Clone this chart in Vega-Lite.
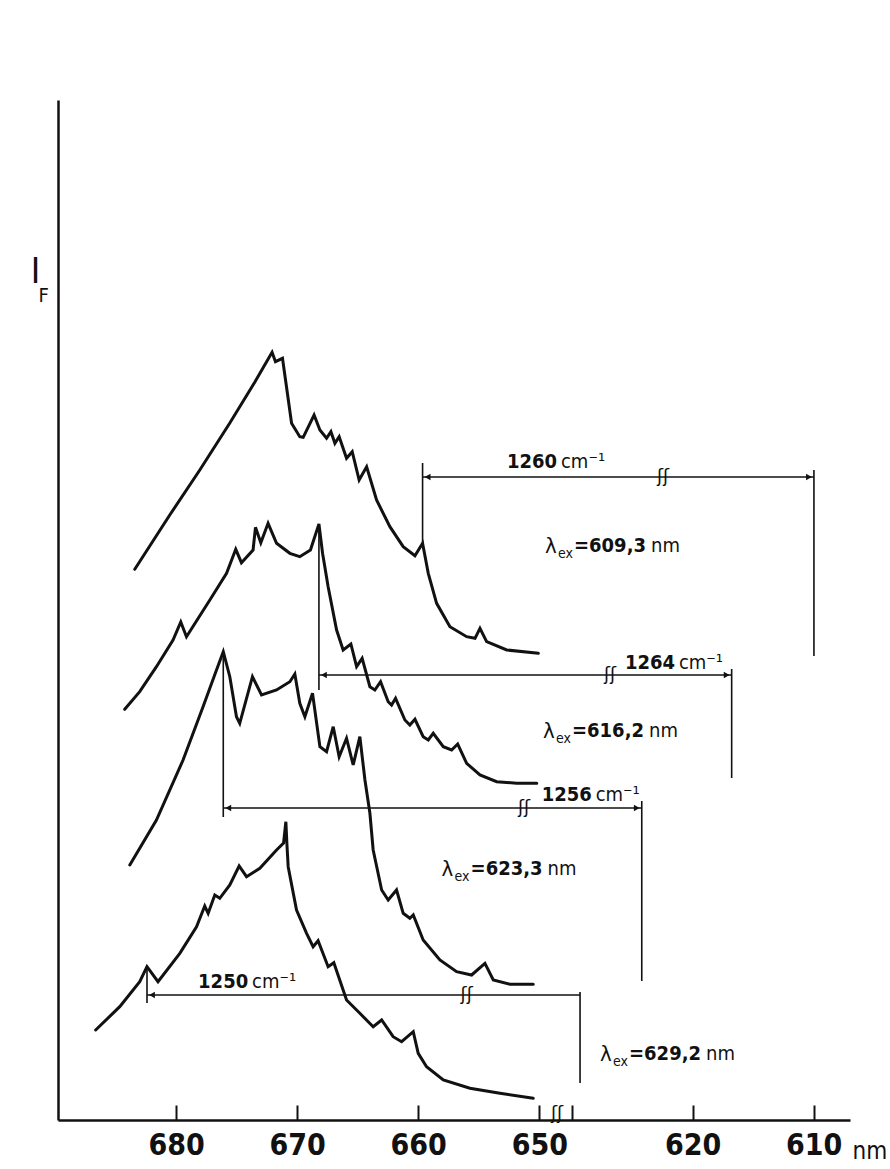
{
  "$schema": "https://vega.github.io/schema/vega-lite/v6.json",
  "width": 792,
  "height": 1020,
  "autosize": {"type": "none"},
  "padding": {"left": 58, "top": 100, "right": 40, "bottom": 49},
  "background": "white",
  "config": {
    "view": {"stroke": null},
    "font": "DejaVu Sans Condensed, DejaVu Sans, sans-serif"
  },
  "datasets": {
    "spectra": [
      {"s": 1, "wl": 683.41, "I": 55.07}, {"s": 1, "wl": 680.52, "I": 60.5}, {"s": 1, "wl": 678.04, "I": 65.0}, {"s": 1, "wl": 675.56, "I": 69.7}, {"s": 1, "wl": 673.49, "I": 73.8}, {"s": 1, "wl": 672.07, "I": 76.77}, {"s": 1, "wl": 671.79, "I": 75.83}, {"s": 1, "wl": 671.21, "I": 76.17}, {"s": 1, "wl": 670.88, "I": 73.33}, {"s": 1, "wl": 670.46, "I": 69.67}, {"s": 1, "wl": 669.78, "I": 68.33}, {"s": 1, "wl": 669.5, "I": 68.27}, {"s": 1, "wl": 668.6, "I": 70.5}, {"s": 1, "wl": 668.12, "I": 69.0}, {"s": 1, "wl": 667.57, "I": 68.17}, {"s": 1, "wl": 667.21, "I": 68.83}, {"s": 1, "wl": 666.88, "I": 67.67}, {"s": 1, "wl": 666.53, "I": 68.33}, {"s": 1, "wl": 665.92, "I": 66.17}, {"s": 1, "wl": 665.45, "I": 66.83}, {"s": 1, "wl": 664.88, "I": 64.0}, {"s": 1, "wl": 664.26, "I": 65.33}, {"s": 1, "wl": 663.44, "I": 62.0}, {"s": 1, "wl": 662.34, "I": 59.33}, {"s": 1, "wl": 661.24, "I": 57.33}, {"s": 1, "wl": 660.27, "I": 56.43}, {"s": 1, "wl": 659.64, "I": 57.67}, {"s": 1, "wl": 659.17, "I": 54.67}, {"s": 1, "wl": 658.48, "I": 51.67}, {"s": 1, "wl": 657.38, "I": 49.33}, {"s": 1, "wl": 656.0, "I": 48.33}, {"s": 1, "wl": 655.31, "I": 48.17}, {"s": 1, "wl": 654.9, "I": 49.17}, {"s": 1, "wl": 654.35, "I": 47.83}, {"s": 1, "wl": 652.69, "I": 47.0}, {"s": 1, "wl": 650.08, "I": 46.67},
      {"s": 2, "wl": 684.24, "I": 41.07}, {"s": 2, "wl": 683.0, "I": 42.83}, {"s": 2, "wl": 681.62, "I": 45.33}, {"s": 2, "wl": 680.25, "I": 48.0}, {"s": 2, "wl": 679.61, "I": 49.8}, {"s": 2, "wl": 679.14, "I": 48.33}, {"s": 2, "wl": 677.21, "I": 52.0}, {"s": 2, "wl": 675.83, "I": 54.67}, {"s": 2, "wl": 675.07, "I": 57.07}, {"s": 2, "wl": 674.6, "I": 55.73}, {"s": 2, "wl": 673.64, "I": 57.0}, {"s": 2, "wl": 673.44, "I": 59.27}, {"s": 2, "wl": 673.0, "I": 57.73}, {"s": 2, "wl": 672.4, "I": 59.67}, {"s": 2, "wl": 671.7, "I": 57.67}, {"s": 2, "wl": 670.6, "I": 56.67}, {"s": 2, "wl": 669.78, "I": 56.33}, {"s": 2, "wl": 668.9, "I": 57.0}, {"s": 2, "wl": 668.2, "I": 59.6}, {"s": 2, "wl": 667.9, "I": 56.67}, {"s": 2, "wl": 667.44, "I": 53.33}, {"s": 2, "wl": 666.74, "I": 49.0}, {"s": 2, "wl": 666.2, "I": 47.0}, {"s": 2, "wl": 665.56, "I": 47.6}, {"s": 2, "wl": 665.09, "I": 45.33}, {"s": 2, "wl": 664.63, "I": 46.17}, {"s": 2, "wl": 663.99, "I": 43.33}, {"s": 2, "wl": 663.58, "I": 43.0}, {"s": 2, "wl": 663.11, "I": 43.83}, {"s": 2, "wl": 662.48, "I": 41.83}, {"s": 2, "wl": 662.2, "I": 41.5}, {"s": 2, "wl": 661.87, "I": 42.17}, {"s": 2, "wl": 661.1, "I": 40.0}, {"s": 2, "wl": 660.69, "I": 39.5}, {"s": 2, "wl": 660.27, "I": 40.07}, {"s": 2, "wl": 659.59, "I": 38.33}, {"s": 2, "wl": 659.17, "I": 38.0}, {"s": 2, "wl": 658.76, "I": 38.67}, {"s": 2, "wl": 657.93, "I": 37.33}, {"s": 2, "wl": 657.24, "I": 37.0}, {"s": 2, "wl": 656.74, "I": 37.6}, {"s": 2, "wl": 656.0, "I": 35.67}, {"s": 2, "wl": 654.9, "I": 34.5}, {"s": 2, "wl": 653.52, "I": 33.83}, {"s": 2, "wl": 651.87, "I": 33.67}, {"s": 2, "wl": 650.21, "I": 33.67},
      {"s": 3, "wl": 683.82, "I": 25.5}, {"s": 3, "wl": 681.62, "I": 30.0}, {"s": 3, "wl": 679.42, "I": 36.0}, {"s": 3, "wl": 677.77, "I": 41.33}, {"s": 3, "wl": 676.66, "I": 45.0}, {"s": 3, "wl": 676.1, "I": 46.83}, {"s": 3, "wl": 675.56, "I": 44.33}, {"s": 3, "wl": 675.01, "I": 40.33}, {"s": 3, "wl": 674.74, "I": 39.67}, {"s": 3, "wl": 673.69, "I": 44.33}, {"s": 3, "wl": 672.94, "I": 42.5}, {"s": 3, "wl": 671.7, "I": 43.0}, {"s": 3, "wl": 670.6, "I": 43.83}, {"s": 3, "wl": 670.19, "I": 44.6}, {"s": 3, "wl": 669.78, "I": 41.67}, {"s": 3, "wl": 669.36, "I": 40.33}, {"s": 3, "wl": 668.73, "I": 42.67}, {"s": 3, "wl": 668.12, "I": 37.33}, {"s": 3, "wl": 667.57, "I": 36.83}, {"s": 3, "wl": 667.02, "I": 39.33}, {"s": 3, "wl": 666.53, "I": 36.33}, {"s": 3, "wl": 665.92, "I": 38.17}, {"s": 3, "wl": 665.37, "I": 35.5}, {"s": 3, "wl": 664.82, "I": 38.33}, {"s": 3, "wl": 664.4, "I": 34.0}, {"s": 3, "wl": 663.99, "I": 30.67}, {"s": 3, "wl": 663.72, "I": 27.0}, {"s": 3, "wl": 663.02, "I": 23.0}, {"s": 3, "wl": 662.48, "I": 22.0}, {"s": 3, "wl": 661.79, "I": 23.0}, {"s": 3, "wl": 661.24, "I": 20.67}, {"s": 3, "wl": 660.69, "I": 20.17}, {"s": 3, "wl": 660.41, "I": 20.5}, {"s": 3, "wl": 659.59, "I": 18.0}, {"s": 3, "wl": 658.21, "I": 16.0}, {"s": 3, "wl": 656.83, "I": 14.83}, {"s": 3, "wl": 655.59, "I": 14.5}, {"s": 3, "wl": 654.49, "I": 15.67}, {"s": 3, "wl": 653.8, "I": 14.0}, {"s": 3, "wl": 652.42, "I": 13.57}, {"s": 3, "wl": 650.5, "I": 13.57},
      {"s": 4, "wl": 686.64, "I": 9.0}, {"s": 4, "wl": 684.65, "I": 11.33}, {"s": 4, "wl": 683.0, "I": 13.83}, {"s": 4, "wl": 682.4, "I": 15.33}, {"s": 4, "wl": 681.49, "I": 13.83}, {"s": 4, "wl": 679.69, "I": 16.67}, {"s": 4, "wl": 678.31, "I": 19.33}, {"s": 4, "wl": 677.63, "I": 21.4}, {"s": 4, "wl": 677.35, "I": 20.67}, {"s": 4, "wl": 676.8, "I": 22.5}, {"s": 4, "wl": 676.39, "I": 22.17}, {"s": 4, "wl": 675.56, "I": 23.5}, {"s": 4, "wl": 674.79, "I": 25.4}, {"s": 4, "wl": 674.18, "I": 24.33}, {"s": 4, "wl": 673.08, "I": 25.17}, {"s": 4, "wl": 671.7, "I": 27.0}, {"s": 4, "wl": 671.12, "I": 27.7}, {"s": 4, "wl": 670.93, "I": 29.83}, {"s": 4, "wl": 670.84, "I": 27.5}, {"s": 4, "wl": 670.74, "I": 25.33}, {"s": 4, "wl": 670.05, "I": 21.0}, {"s": 4, "wl": 669.22, "I": 18.67}, {"s": 4, "wl": 668.68, "I": 17.33}, {"s": 4, "wl": 668.27, "I": 17.93}, {"s": 4, "wl": 667.44, "I": 15.33}, {"s": 4, "wl": 666.97, "I": 15.73}, {"s": 4, "wl": 665.92, "I": 12.0}, {"s": 4, "wl": 664.82, "I": 10.67}, {"s": 4, "wl": 663.72, "I": 9.33}, {"s": 4, "wl": 663.02, "I": 10.0}, {"s": 4, "wl": 662.07, "I": 8.33}, {"s": 4, "wl": 661.37, "I": 7.83}, {"s": 4, "wl": 660.41, "I": 8.83}, {"s": 4, "wl": 660.0, "I": 6.67}, {"s": 4, "wl": 659.31, "I": 5.33}, {"s": 4, "wl": 657.93, "I": 4.0}, {"s": 4, "wl": 655.73, "I": 3.17}, {"s": 4, "wl": 653.25, "I": 2.67}, {"s": 4, "wl": 650.5, "I": 2.17}
    ],
    "rules": [
      {"wl": 659.64, "I": 65.7, "wl2": 659.64, "I2": 57.5},
      {"wl": 659.64, "I": 64.3, "wl2": 609.98, "I2": 64.3},
      {"wl": 609.98, "I": 65.0, "wl2": 609.98, "I2": 46.4},
      {"wl": 668.2, "I": 59.6, "wl2": 668.2, "I2": 43.0},
      {"wl": 668.2, "I": 44.5, "wl2": 616.78, "I2": 44.5},
      {"wl": 616.78, "I": 45.1, "wl2": 616.78, "I2": 34.2},
      {"wl": 676.1, "I": 46.8, "wl2": 676.1, "I2": 30.3},
      {"wl": 676.1, "I": 31.2, "wl2": 624.21, "I2": 31.2},
      {"wl": 624.21, "I": 31.9, "wl2": 624.21, "I2": 13.9},
      {"wl": 682.4, "I": 15.3, "wl2": 682.4, "I2": 11.7},
      {"wl": 682.4, "I": 12.5, "wl2": 629.31, "I2": 12.5},
      {"wl": 629.31, "I": 12.8, "wl2": 629.31, "I2": 3.7}
    ],
    "arrows": [
      {"wl": 659.64, "I": 64.3, "dir": "left"},
      {"wl": 668.2, "I": 44.5, "dir": "left"},
      {"wl": 676.1, "I": 31.2, "dir": "left"},
      {"wl": 682.4, "I": 12.5, "dir": "left"},
      {"wl": 609.98, "I": 64.3, "dir": "right"},
      {"wl": 616.78, "I": 44.5, "dir": "right"},
      {"wl": 624.21, "I": 31.2, "dir": "right"}
    ],
    "breaks": [
      {"wl": 622.45, "I": 64.3},
      {"wl": 626.83, "I": 44.5},
      {"wl": 651.26, "I": 31.2},
      {"wl": 656.0, "I": 12.5},
      {"wl": 639.0, "I": 0.6}
    ],
    "shifts": [
      {"wl": 652.67, "I": 65.8, "num": "1260"},
      {"wl": 625.6, "I": 45.75, "num": "1264"},
      {"wl": 648.52, "I": 32.5, "num": "1256"},
      {"wl": 678.18, "I": 13.8, "num": "1250"}
    ],
    "excit": [
      {"wl": 646.48, "I": 57.4, "val": "=609,3"},
      {"wl": 647.72, "I": 38.9, "val": "=616,2"},
      {"wl": 658.07, "I": 25.1, "val": "=623,3"},
      {"wl": 627.66, "I": 6.6, "val": "=629,2"}
    ],
    "ylab": [
      {"wl": 691.6, "I": 84.8}
    ]
  },
  "encoding": {
    "x": {
      "field": "wl",
      "type": "quantitative",
      "scale": {"type": "linear", "domain": [689.75, 650, 630, 607.0], "range": [0, 481.3, 513.7, 792], "zero": false, "nice": false},
      "axis": {
        "values": [680, 670, 660, 650, 630, 620, 610],
        "labelExpr": "datum.value == 630 ? '' : datum.label",
        "grid": false,
        "tickSize": -15,
        "tickWidth": 2,
        "tickColor": "#111",
        "domainColor": "#111",
        "domainWidth": 2.5,
        "labelFontSize": 30,
        "labelFontWeight": "bold",
        "labelColor": "#111",
        "labelPadding": 25,
        "labelFlush": false,
        "labelOverlap": false,
        "title": "nm",
        "titleFontSize": 24,
        "titleFontWeight": "normal",
        "titleColor": "#111",
        "titleAlign": "left",
        "titleAnchor": "start",
        "titleBaseline": "alphabetic",
        "titleX": 794,
        "titleY": 38
      }
    },
    "y": {
      "field": "I",
      "type": "quantitative",
      "scale": {"domain": [0, 102], "zero": false, "nice": false},
      "axis": {"title": null, "labels": false, "ticks": false, "grid": false, "domainColor": "#111", "domainWidth": 2.5}
    }
  },
  "layer": [
    {
      "data": {"name": "spectra"},
      "mark": {"type": "line", "stroke": "#111", "strokeWidth": 3, "strokeJoin": "miter", "strokeCap": "round", "clip": false},
      "encoding": {"detail": {"field": "s", "type": "nominal"}}
    },
    {
      "data": {"name": "rules"},
      "mark": {"type": "rule", "stroke": "#111", "strokeWidth": 1.6},
      "encoding": {"x2": {"field": "wl2"}, "y2": {"field": "I2"}}
    },
    {
      "data": {"name": "arrows"},
      "transform": [{"filter": "datum.dir == 'left'"}],
      "mark": {"type": "point", "shape": "triangle-left", "filled": true, "fill": "#111", "stroke": null, "size": 45, "opacity": 1, "xOffset": 5},
      "encoding": {}
    },
    {
      "data": {"name": "arrows"},
      "transform": [{"filter": "datum.dir == 'right'"}],
      "mark": {"type": "point", "shape": "triangle-right", "filled": true, "fill": "#111", "stroke": null, "size": 45, "opacity": 1, "xOffset": -5},
      "encoding": {}
    },
    {
      "data": {"name": "breaks"},
      "mark": {"type": "text", "text": "ʃʃ", "font": "DejaVu Sans", "fontSize": 18, "fill": "#111", "align": "center", "baseline": "middle"},
      "encoding": {}
    },
    {
      "data": {"name": "shifts"},
      "mark": {"type": "text", "fontSize": 20, "fontWeight": "bold", "fill": "#111", "align": "left", "baseline": "middle"},
      "encoding": {"text": {"field": "num"}}
    },
    {
      "data": {"name": "shifts"},
      "mark": {"type": "text", "text": "cm⁻¹", "fontSize": 20, "fill": "#111", "align": "left", "baseline": "middle", "dx": 54},
      "encoding": {}
    },
    {
      "data": {"name": "excit"},
      "mark": {"type": "text", "text": "λ", "fontSize": 22, "fill": "#111", "align": "left", "baseline": "middle"},
      "encoding": {}
    },
    {
      "data": {"name": "excit"},
      "mark": {"type": "text", "text": "ex", "fontSize": 14, "fill": "#111", "align": "left", "baseline": "middle", "dx": 13, "dy": 8},
      "encoding": {}
    },
    {
      "data": {"name": "excit"},
      "mark": {"type": "text", "fontSize": 20, "fontWeight": "bold", "fill": "#111", "align": "left", "baseline": "middle", "dx": 29},
      "encoding": {"text": {"field": "val"}}
    },
    {
      "data": {"name": "excit"},
      "mark": {"type": "text", "text": "nm", "fontSize": 20, "fill": "#111", "align": "left", "baseline": "middle", "dx": 106},
      "encoding": {}
    },
    {
      "data": {"name": "ylab"},
      "mark": {"type": "text", "text": "I", "fontSize": 36, "fill": "#111", "align": "center", "baseline": "middle"},
      "encoding": {}
    },
    {
      "data": {"name": "ylab"},
      "mark": {"type": "text", "text": "F", "fontSize": 20, "fill": "#111", "align": "left", "baseline": "middle", "dx": 3, "dy": 24},
      "encoding": {}
    }
  ]
}
